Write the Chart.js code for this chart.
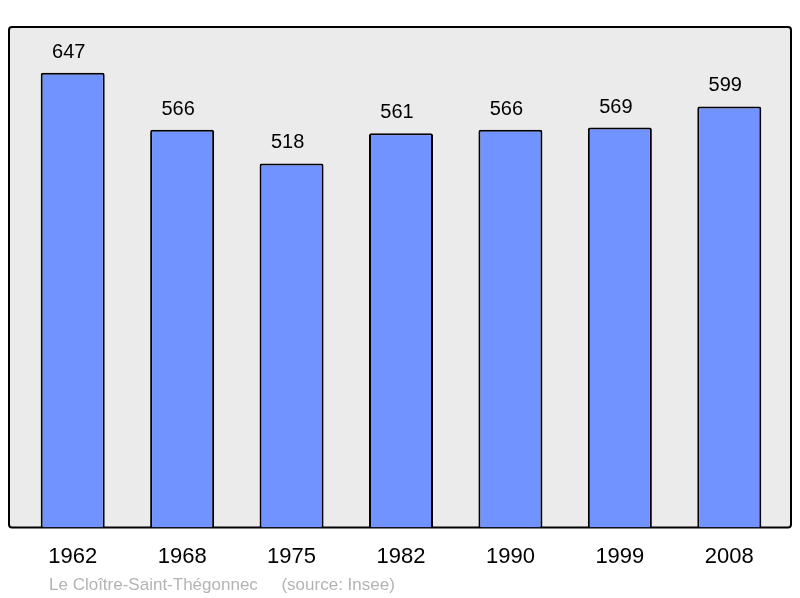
<!DOCTYPE html>
<html>
<head>
<meta charset="utf-8">
<script src="https://cdn.jsdelivr.net/npm/chart.js@4"></script>
<style>
  body { margin: 0; background: #fff; }
  #wrap { position: relative; width: 800px; height: 598px; }
  #note { position: absolute; left: 49px; top: 575px; font: 17px "Liberation Sans", Arial, sans-serif; color: #b4b4b4; white-space: pre; }
</style>
</head>
<body>
<div id="wrap">
  <canvas id="popChart" width="800" height="598"></canvas>
  <div id="note">Le Cloître-Saint-Thégonnec     (source: Insee)</div>
</div>
<script>
const years = ["1962", "1968", "1975", "1982", "1990", "1999", "2008"];
const population = [647, 566, 518, 561, 566, 569, 599];
const yMax = 712;

// gray panel behind the bars
const panel = {
  id: "panel",
  beforeDraw(chart) {
    const a = chart.chartArea, ctx = chart.ctx;
    const x = a.left - 9, y = a.top, w = a.right - a.left + 16, h = a.bottom - a.top;
    ctx.save();
    ctx.fillStyle = "#ebebeb";
    ctx.strokeStyle = "#000";
    ctx.lineWidth = 2;
    ctx.beginPath();
    ctx.roundRect(x, y, w, h, 3);
    ctx.fill();
    ctx.stroke();
    ctx.restore();
  }
};

// values above each bar
const valueLabels = {
  id: "valueLabels",
  afterDatasetsDraw(chart) {
    const ctx = chart.ctx;
    const meta = chart.getDatasetMeta(0);
    ctx.save();
    ctx.font = '20px "Liberation Sans", Arial, sans-serif';
    ctx.fillStyle = "#000";
    ctx.textAlign = "center";
    ctx.textBaseline = "alphabetic";
    meta.data.forEach((bar, i) => {
      ctx.fillText(population[i], bar.x - 4, bar.y - 15);
    });
    ctx.restore();
  }
};

new Chart(document.getElementById("popChart"), {
  type: "bar",
  data: {
    labels: years,
    datasets: [{
      data: population,
      backgroundColor: "#7093ff",
      borderColor: "#000",
      borderWidth: 2,
      borderRadius: 2,
      borderSkipped: "bottom",
      barPercentage: 0.585,
      categoryPercentage: 1
    }]
  },
  options: {
    responsive: false,
    animation: false,
    layout: { padding: { left: 18, right: 16, top: 27, bottom: 12 } },
    plugins: { legend: { display: false }, tooltip: { enabled: false } },
    scales: {
      x: {
        grid: { display: false, drawTicks: false },
        border: { display: false },
        ticks: { color: "#000", padding: 16, font: { family: "Liberation Sans", size: 22 } }
      },
      y: { display: false, min: 0, max: yMax }
    }
  },
  plugins: [panel, valueLabels]
});
</script>
</body>
</html>
